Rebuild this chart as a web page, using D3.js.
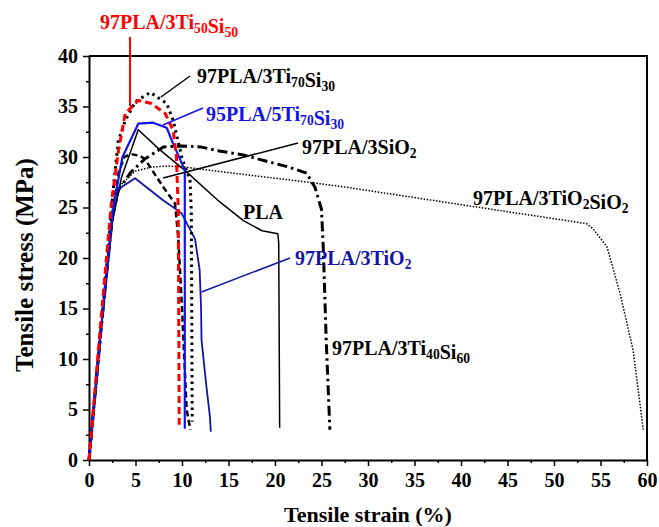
<!DOCTYPE html>
<html><head><meta charset="utf-8">
<script src="https://cdn.jsdelivr.net/npm/d3@7"></script>
<style>
html,body{margin:0;padding:0;background:#fff;}
text{font-family:"Liberation Serif","Times New Roman",serif;font-weight:bold;}
</style></head>
<body><svg id="chart" width="659" height="527"></svg>
<script>
// ---- data: [strain %, stress MPa] ----
const pla = [[0,0],[1.3,13],[2.5,23.5],[3.5,28],[5.3,32.7],[7.5,30.8],[10.4,28.6],[14,25.6],[16.6,23.7],[18.6,22.7],[20.3,22.4],[20.4,21.5],[20.5,3.2]];
const ti50si50 = [[0,0],[1.2,13],[2.4,25.4],[3.15,30.5],[3.9,34.3],[5.3,35.6],[6.7,35.3],[8.2,34.3],[9.06,32.6],[9.4,30],[9.6,24.7],[9.7,3.5]];
const ti70si30 = [[0,0],[1.3,13],[2.7,27.7],[3.15,31.6],[3.9,33.6],[5,35.5],[6.6,36.4],[8.35,35.3],[9.06,33.6],[9.97,30],[10.86,27.7],[11.0,24.7],[11.1,3.8]];
const pla95ti70si30 = [[0,0],[1.3,13],[2.6,25],[3.6,30],[5.3,33.3],[6.9,33.4],[8.35,32.9],[9.2,31.0],[10.3,28.7],[10.3,3.1]];
const sio2 = [[0,0],[1.3,13],[2.6,25],[3.2,28.5],[3.8,30],[4.5,30.3],[5.5,30.1],[6,29.8],[8,27],[9.25,25.4],[9.6,22],[10,15],[10.5,5],[10.9,3]];
const ti40si60 = [[0,0],[1.3,13],[2.5,24],[3.15,26.7],[4.5,28.5],[6,29.8],[8,31],[10,31.1],[12,31.0],[14,30.6],[16.6,30.2],[19,29.6],[21.5,29.0],[23.4,28.4],[24.3,27],[25,24.8],[25.2,20.8],[25.5,12],[25.9,3]];
const tio2sio2 = [[0,0],[1.3,13],[2.5,24],[3.15,27],[4.95,28.6],[6.7,29],[8.5,29.1],[10.3,29],[14.6,28.5],[22.7,27.6],[27,27.1],[40.6,25.2],[46.3,24.4],[47.8,24.2],[53.5,23.4],[54.2,22.9],[55.7,21.1],[57.1,16.5],[58.5,10.9],[59.6,3.0]];
const tio2 = [[0,0],[1.3,13],[2.5,24],[2.97,26.7],[4.95,27.9],[8.0,25.7],[9.25,24.9],[9.97,24.4],[11.4,21.9],[11.9,18.8],[12.05,15],[12.1,11.9],[12.6,7.5],[13.0,4.3],[13.1,2.8]];

const xTicks = [0,5,10,15,20,25,30,35,40,45,50,55,60];
const yTicks = [0,5,10,15,20,25,30,35,40];

const svg = d3.select("#chart");
const x = d3.scaleLinear().domain([0,60]).range([89,647]);
const y = d3.scaleLinear().domain([0,40]).range([460,56]);

// frame top/right
svg.append("line").attr("x1",89).attr("x2",648).attr("y1",56).attr("y2",56).attr("stroke","#000").attr("stroke-width",2);
svg.append("line").attr("x1",647).attr("x2",647).attr("y1",56).attr("y2",461).attr("stroke","#000").attr("stroke-width",2);

// axes
const xAxis = svg.append("g").attr("transform","translate(0,460)")
  .call(d3.axisBottom(x).tickValues(xTicks).tickSize(6).tickSizeOuter(0).tickPadding(7));
const xMinor = svg.append("g").attr("transform","translate(0,460)")
  .call(d3.axisBottom(x).tickValues(xTicks.slice(0,-1).map(v=>v+2.5)).tickSize(3).tickFormat(""));
xMinor.select(".domain").remove();
const yAxis = svg.append("g").attr("transform","translate(89,0)")
  .call(d3.axisLeft(y).tickValues(yTicks).tickSize(6).tickSizeOuter(0).tickPadding(5));
const yMinor = svg.append("g").attr("transform","translate(89,0)")
  .call(d3.axisLeft(y).tickValues(yTicks.slice(0,-1).map(v=>v+2.5)).tickSize(3).tickFormat(""));
yMinor.select(".domain").remove();
svg.selectAll(".domain").attr("stroke-width",2);
svg.selectAll(".tick line").attr("stroke-width",1.5);
svg.selectAll(".tick text").attr("font-size",20).attr("font-family","Liberation Serif").attr("font-weight","bold").attr("fill","#000");

// curves
const line = d3.line().x(d=>x(d[0])).y(d=>y(d[1]));
const curves = [
  {d:tio2sio2, c:"#000", w:1.5, dash:"1.5,1.6"},
  {d:ti40si60, c:"#000", w:3, dash:"10,4,2.5,4"},
  {d:pla, c:"#000", w:1.5, dash:null},
  {d:sio2, c:"#000", w:2.5, dash:"6,3.5"},
  {d:tio2, c:"#1414a8", w:1.8, dash:null},
  {d:ti70si30, c:"#000", w:3, dash:"2.5,4"},
  {d:pla95ti70si30, c:"#1414e6", w:2.2, dash:null},
  {d:ti50si50, c:"#ff0000", w:3, dash:"7,4"}
];
curves.forEach(k=>{
  svg.append("path").attr("d",line(k.d)).attr("fill","none").attr("stroke",k.c)
    .attr("stroke-width",k.w).attr("stroke-dasharray",k.dash).attr("stroke-linejoin","round");
});

// pointer lines
function ptr(x1,y1,x2,y2,c,w){svg.append("line").attr("x1",x1).attr("y1",y1).attr("x2",x2).attr("y2",y2).attr("stroke",c).attr("stroke-width",w||1.5);}
ptr(130,37,130,106,"#ff0000",2);
ptr(190,76,161,97,"#000");
ptr(203,108,163,125,"#1414e6");
ptr(298,143,163,178,"#000");
ptr(290,258,201.5,292,"#1414a8");

// labels with subscripts
function label(xp,yp,parts,color,size){
  const t = svg.append("text").attr("x",xp).attr("y",yp).attr("fill",color).attr("font-size",size);
  parts.forEach(p=>{
    if(typeof p==="string"){ t.append("tspan").text(p); }
    else { t.append("tspan").attr("font-size",size*0.68).attr("dy",p.dy).text(p.s); }
  });
}
label(100,29,["97PLA/3Ti",{s:"50",dy:4},{s:"",dy:-4},"Si",{s:"50",dy:4}],"#ff0000",20);
label(197,83,["97PLA/3Ti",{s:"70",dy:4},{s:"",dy:-4},"Si",{s:"30",dy:4}],"#000",20);
label(206,121,["95PLA/5Ti",{s:"70",dy:4},{s:"",dy:-4},"Si",{s:"30",dy:4}],"#1414e6",20);
label(302,154,["97PLA/3SiO",{s:"2",dy:4}],"#000",20);
label(243,219,["PLA"],"#000",20);
label(295,265,["97PLA/3TiO",{s:"2",dy:4}],"#1414a8",20);
label(332,355,["97PLA/3Ti",{s:"40",dy:4},{s:"",dy:-4},"Si",{s:"60",dy:4}],"#000",20);
label(473,205,["97PLA/3TiO",{s:"2",dy:4},{s:"",dy:-4},"SiO",{s:"2",dy:4}],"#000",20);

// axis titles
svg.append("text").attr("x",368).attr("y",522).attr("text-anchor","middle").attr("font-size",22).attr("fill","#000").text("Tensile strain (%)");
svg.append("text").attr("transform","translate(33,265) rotate(-90)").attr("text-anchor","middle").attr("font-size",25).attr("fill","#000").text("Tensile stress (MPa)");
</script></body></html>
